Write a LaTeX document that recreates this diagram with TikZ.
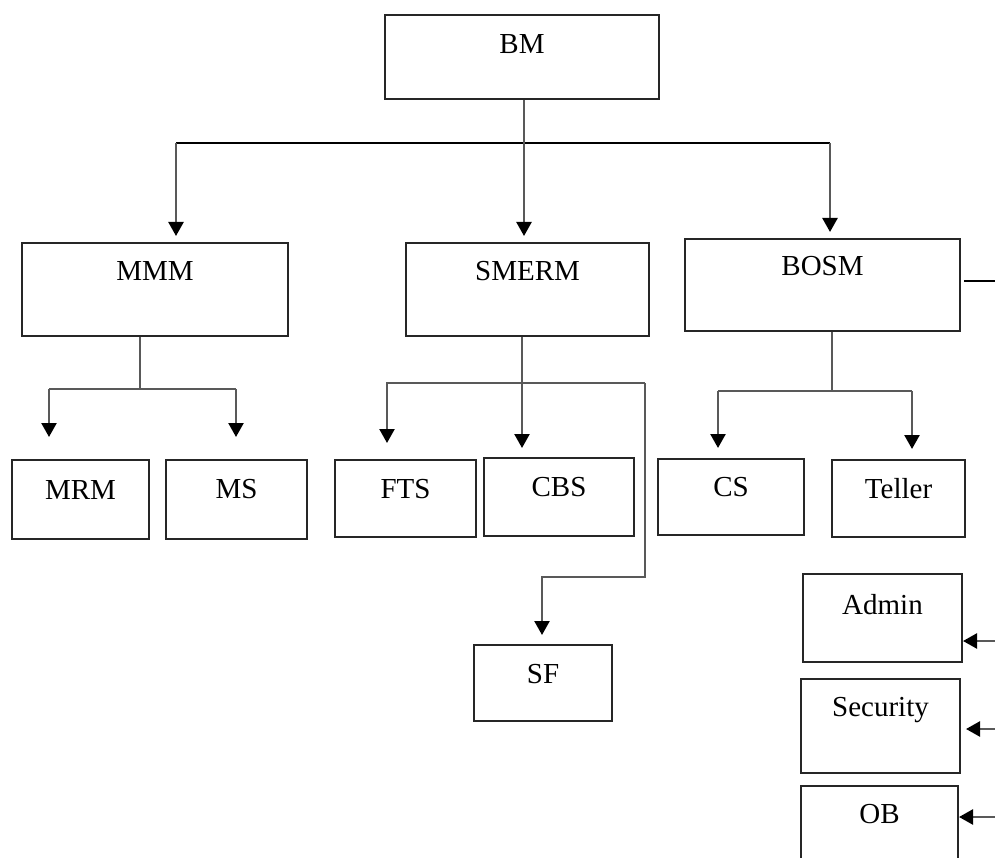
\documentclass[tikz,border=0pt]{standalone}
\usepackage{fontspec}
\setmainfont{Liberation Serif}
\usetikzlibrary{arrows.meta}

\begin{document}
\begin{tikzpicture}[x=1pt,y=-1pt,>={Triangle[width=15pt,length=14pt,color=black]},
                    box/.style={draw=black!85,line width=2pt,inner sep=0pt,anchor=north west,
                                font=\fontsize{29}{34}\selectfont},
                    link/.style={draw=black!65,line width=2.4pt},
                    bar/.style={draw=black,line width=1.9pt}]

  \useasboundingbox (0,0) rectangle (995,858);
  \clip (0,0) rectangle (995,858);

  \node[box,minimum width=274pt,text height=39pt,text depth=45pt] (bm)       at (384,14)  {BM};
  \node[box,minimum width=266pt,text height=38pt,text depth=55pt] (mmm)      at (21,242)  {MMM};
  \node[box,minimum width=243pt,text height=38pt,text depth=55pt] (smerm)    at (405,242) {SMERM};
  \node[box,minimum width=275pt,text height=37pt,text depth=55pt] (bosm)     at (684,238) {BOSM};
  \node[box,minimum width=137pt,text height=39pt,text depth=40pt] (mrm)      at (11,459)  {MRM};
  \node[box,minimum width=141pt,text height=38pt,text depth=41pt] (ms)       at (165,459) {MS};
  \node[box,minimum width=141pt,text height=38pt,text depth=39pt] (fts)      at (334,459) {FTS};
  \node[box,minimum width=150pt,text height=38pt,text depth=40pt] (cbs)      at (483,457) {CBS};
  \node[box,minimum width=146pt,text height=37pt,text depth=39pt] (cs)       at (657,458) {CS};
  \node[box,minimum width=133pt,text height=38pt,text depth=39pt] (teller)   at (831,459) {Teller};
  \node[box,minimum width=138pt,text height=38pt,text depth=38pt] (sf)       at (473,644) {SF};
  \node[box,minimum width=159pt,text height=40pt,text depth=48pt] (admin)    at (802,573) {Admin};
  \node[box,minimum width=159pt,text height=37pt,text depth=57pt] (security) at (800,678) {Security};
  \node[box,minimum width=157pt,text height=37pt,text depth=60pt] (ob)       at (800,785) {OB};

  \coordinate (busL) at (176,143);
  \coordinate (busM) at (524,143);
  \coordinate (busR) at (830,143);
  \coordinate (mmmJ) at (140,389);
  \coordinate (mmmL) at (49,389);
  \coordinate (mmmR) at (236,389);
  \coordinate (smJ)  at (522,383);
  \coordinate (smL)  at (387,383);
  \coordinate (smR)  at (645,383);
  \coordinate (sfBend) at (645,577);
  \coordinate (sfTurn) at (542,577);
  \coordinate (boJ)  at (832,391);
  \coordinate (boL)  at (718,391);
  \coordinate (boR)  at (912,391);
  \coordinate (stub)    at (995,281);
  \coordinate (adminIn) at (995,641);
  \coordinate (secIn)   at (995,729);
  \coordinate (obIn)    at (995,817);

  \draw[bar] (busL) -- (busR);
  \draw[link] (bm.south -| busM) -- (busM);
  \draw[link,->,shorten >=6pt] (busL) -- (busL |- mmm.north);
  \draw[link,->,shorten >=6pt] (busM) -- (busM |- smerm.north);
  \draw[link,->,shorten >=6pt] (busR) -- (busR |- bosm.north);

  \draw[link] (mmm.south -| mmmJ) -- (mmmJ);
  \draw[link] (mmmL) -- (mmmR);
  \draw[link,->,shorten >=22pt] (mmmL) -- (mmmL |- mrm.north);
  \draw[link,->,shorten >=22pt] (mmmR) -- (mmmR |- ms.north);

  \draw[link] (smerm.south -| smJ) -- (smJ);
  \draw[link,->,shorten >=16pt] (smR) -- (smL) -- (smL |- fts.north);
  \draw[link,->,shorten >=9pt] (smJ) -- (smJ |- cbs.north);
  \draw[link,->,shorten >=9pt] (smR) -- (sfBend) -- (sfTurn) -- (sfTurn |- sf.north);

  \draw[link] (bosm.south -| boJ) -- (boJ);
  \draw[link] (boL) -- (boR);
  \draw[link,->,shorten >=10pt] (boL) -- (boL |- cs.north);
  \draw[link,->,shorten >=10pt] (boR) -- (boR |- teller.north);
  \draw[bar,shorten <=3pt] (bosm.east |- stub) -- (stub);

  \draw[link,->] (adminIn) -- (admin.east |- adminIn);
  \draw[link,->,shorten >=5pt] (secIn) -- (security.east |- secIn);
  \draw[link,->] (obIn) -- (ob.east |- obIn);
\end{tikzpicture}
\end{document}
